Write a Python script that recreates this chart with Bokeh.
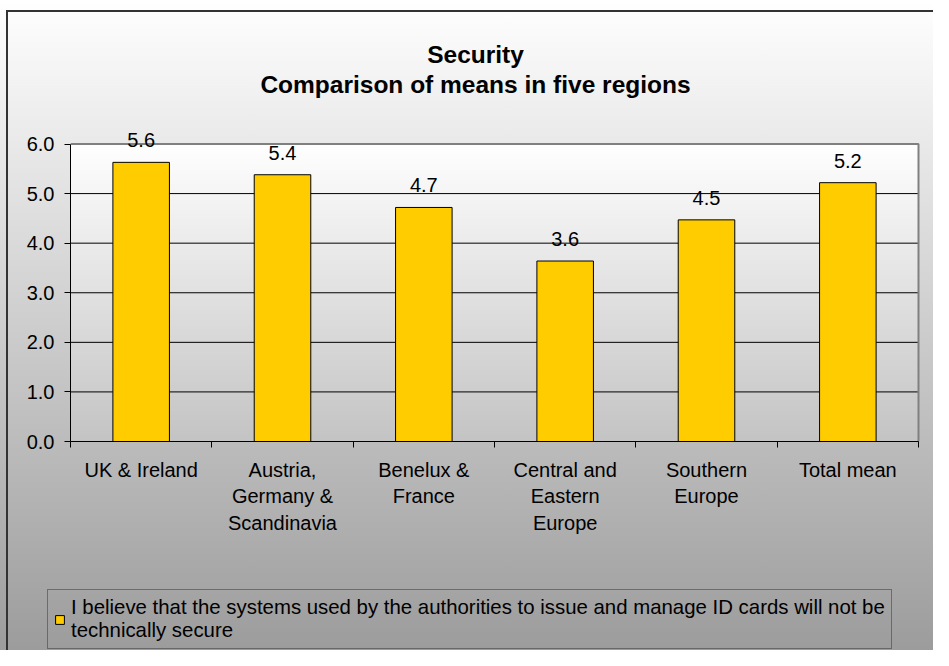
import numpy as np
from bokeh.plotting import figure
from bokeh.layouts import column
from bokeh.models import (ColumnDataSource, Range1d, FixedTicker, NumeralTickFormatter,
                          LabelSet, Label, Legend, LegendItem)
from bokeh.core.properties import value
from bokeh.embed import file_html
from bokeh.resources import INLINE

# ---- data ----
regions = ["UK & Ireland", "Austria,\nGermany &\nScandinavia", "Benelux &\nFrance",
           "Central and\nEastern\nEurope", "Southern\nEurope", "Total mean"]
means = [5.63, 5.38, 4.72, 3.64, 4.47, 5.22]
mean_labels = ["5.6", "5.4", "4.7", "3.6", "4.5", "5.2"]
y_ticks = [0, 1, 2, 3, 4, 5, 6]
series_name = ("I believe that the systems used by the authorities to issue and manage ID cards will not be\n"
               "technically secure")
title_lines = ["Security", "Comparison of means in five regions"]

FONT = "Liberation Sans"
BAR_FILL, BAR_LINE = "#FFCC00", "#000000"
n = len(regions)
xpos = [i + 0.5 for i in range(n)]
y_max = y_ticks[-1]

# ---- layout (pixels inside the figure) ----
W, H_MAIN, H_LEG = 933, 580, 70
FRAME_LEFT, FRAME_RIGHT = 70, 925
AXIS_X1 = 918                          # pixel position of x = n
FRAME_TOP, FRAME_BOTTOM = 20, 441      # frame extends up to hold the titles
AXIS_TOP_PX = 143.5                    # where the value 6.0 sits
LEGEND_SHIFT = 23                      # legend box starts left of the value axis
px_per_x = (AXIS_X1 - FRAME_LEFT) / n
x_end = n + (FRAME_RIGHT - AXIS_X1) / px_per_x
y_end = y_max * (FRAME_BOTTOM - FRAME_TOP) / (FRAME_BOTTOM - AXIS_TOP_PX)

p = figure(width=W, height=H_MAIN, output_backend="svg", toolbar_location=None,
           x_range=Range1d(0, x_end), y_range=Range1d(0, y_end),
           min_border_left=FRAME_LEFT, min_border_right=W - FRAME_RIGHT,
           min_border_top=FRAME_TOP, min_border_bottom=H_MAIN - FRAME_BOTTOM)
p.border_fill_alpha = 0
p.background_fill_alpha = 0
p.outline_line_color = None
p.grid.visible = False

# plot-area gradient (white to light gray), covering the value area only
grad = np.linspace(0.0, 1.0, 256)[:, None]  # row 0 = bottom
g = (196 + (255 - 196) * grad).astype(np.uint32)
img = ((255 << 24) | (g << 16) | (g << 8) | g).astype(np.uint32)
p.image_rgba(image=[img], x=0, y=0, dw=n, dh=y_max, level="image")

# horizontal grid lines (black) and plot-area border (top and right, gray)
p.segment(x0=0, x1=n, y0=y_ticks[:-1], y1=y_ticks[:-1], line_color="#000000",
          line_width=1, level="underlay")
p.line(x=[0, n, n], y=[y_max, y_max, 0], line_color="#808080", line_width=2,
       level="underlay")

src = ColumnDataSource(dict(x=xpos, top=means, lab=mean_labels))
bars = p.vbar(x="x", top="top", width=0.4, source=src, fill_color=BAR_FILL,
              line_color=BAR_LINE, line_width=1)

# y axis
p.yaxis.ticker = FixedTicker(ticks=y_ticks)
p.yaxis.bounds = (0, y_max)
p.yaxis.formatter = NumeralTickFormatter(format="0.0")
p.yaxis.axis_line_color = "#000000"
p.yaxis.major_tick_line_color = "#000000"
p.yaxis.major_tick_out = 6
p.yaxis.major_tick_in = 0
p.yaxis.minor_tick_line_color = None
p.yaxis.major_label_text_font = FONT
p.yaxis.major_label_text_font_size = "20px"
p.yaxis.major_label_text_color = "#000000"
p.yaxis.major_label_standoff = 10

# x axis: ticks at category boundaries (minor), labels at centers
p.xaxis.ticker = FixedTicker(ticks=xpos, minor_ticks=list(range(n + 1)))
p.xaxis.bounds = (0, n)
p.xaxis.major_label_overrides = {x: r for x, r in zip(xpos, regions)}
p.xaxis.major_tick_line_color = None
p.xaxis.minor_tick_line_color = "#000000"
p.xaxis.minor_tick_out = 6
p.xaxis.minor_tick_in = 0
p.xaxis.axis_line_color = "#000000"
p.xaxis.major_label_text_font = FONT
p.xaxis.major_label_text_font_size = "20px"
p.xaxis.major_label_text_color = "#000000"
p.xaxis.major_label_text_line_height = 1.22
p.xaxis.major_label_standoff = 11

# value labels
labels = LabelSet(x="x", y="top", text="lab", source=src, text_align="center",
                  text_baseline="alphabetic", y_offset=15, text_font=value(FONT),
                  text_font_size=value("20px"), text_color="#000000")
p.add_layout(labels)

# titles (screen units relative to the frame's bottom-left)
for txt, yy in zip(title_lines, [387, 357]):
    p.add_layout(Label(x=405, y=yy, x_units="screen", y_units="screen", text=txt,
                       text_align="center", text_baseline="alphabetic", text_font=FONT,
                       text_font_size="24.5px", text_font_style="bold", text_color="#000000"))

# legend strip below the chart (shifted left so the box starts before the axis)
pl = figure(width=W, height=H_LEG, output_backend="svg", toolbar_location=None,
            x_range=Range1d(100, 101), y_range=Range1d(100, 101),
            x_axis_location=None, y_axis_location=None, min_border=0)
pl.margin = (0, 0, 0, -LEGEND_SHIFT)
pl.grid.visible = False
pl.outline_line_color = None
pl.border_fill_alpha = 0
pl.background_fill_alpha = 0
# same bars as legend source; they lie outside this strip's ranges
proxy = pl.vbar(x="x", top="top", width=0.4, source=src, fill_color=BAR_FILL,
                line_color=BAR_LINE, line_width=1)
legend = Legend(items=[LegendItem(label=series_name, renderers=[proxy])],
                location=(0, 1), orientation="vertical",
                background_fill_alpha=0, border_line_color="#333333", border_line_width=1,
                label_text_font=FONT, label_text_font_size="20.4px", label_text_color="#000000",
                label_text_line_height=1.35,
                glyph_width=11, glyph_height=11, label_standoff=6, padding=6, margin=0)
pl.add_layout(legend, "center")

layout = column(p, pl, spacing=0)
layout.styles = {
    "background": ("linear-gradient(#333333, #333333) 6px 10px / 2px 100% no-repeat, "
                   "linear-gradient(#333333, #333333) 6px 10px / 100% 2px no-repeat, "
                   "linear-gradient(to bottom, #ffffff 0%, #9c9c9c 100%)"),
}

open("out.html", "w").write(file_html(layout, INLINE))
